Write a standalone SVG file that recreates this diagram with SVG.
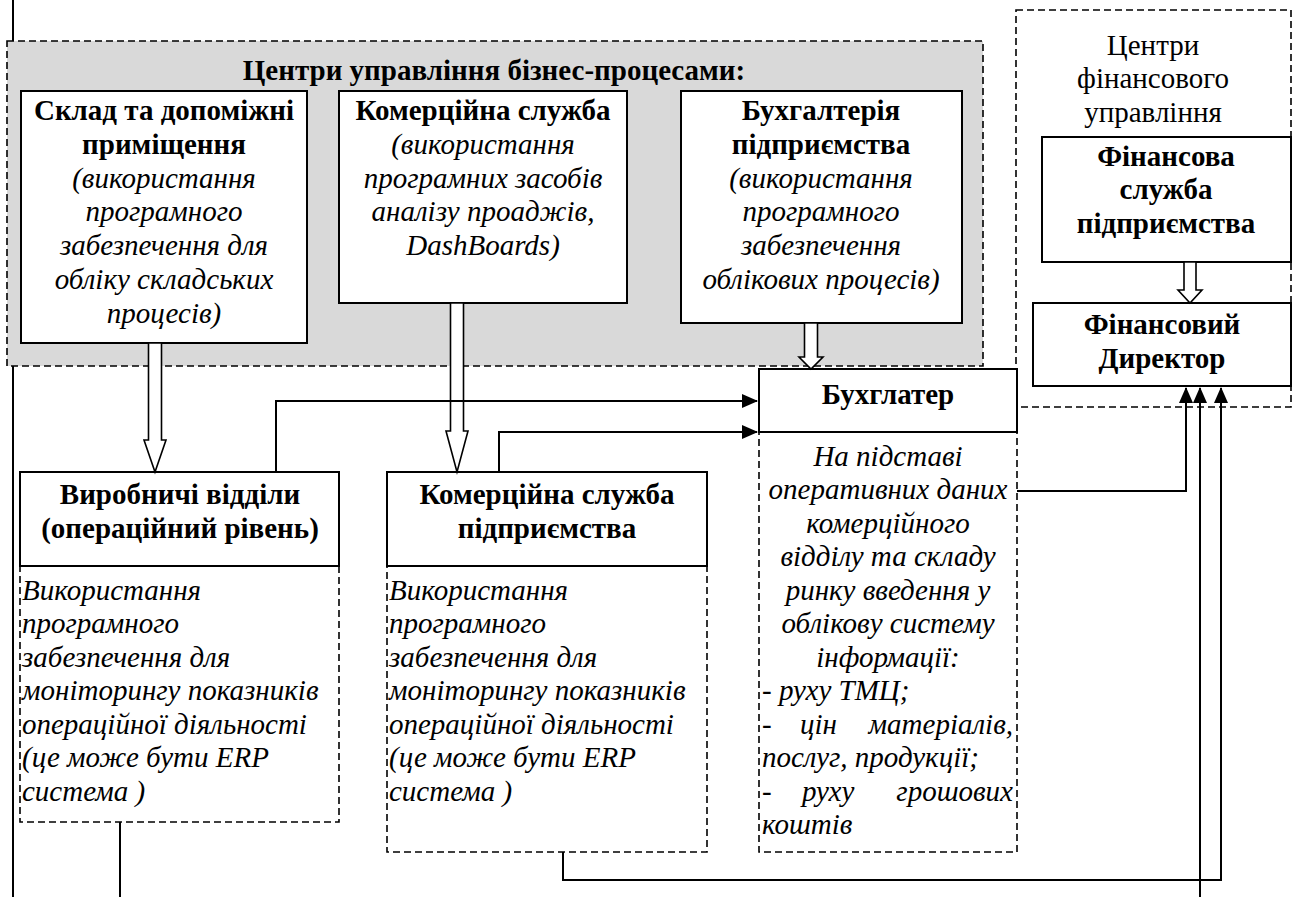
<svg xmlns="http://www.w3.org/2000/svg" width="1293" height="897" viewBox="0 0 1293 897">
<style>
text{font-family:"Liberation Serif",serif;font-size:29px;fill:#000}
.b{font-weight:bold}
.i{font-style:italic}
.c{text-anchor:middle}
.e{text-anchor:end}
.box{fill:#fff;stroke:#000;stroke-width:2}
.dash{fill:none;stroke:#000;stroke-width:1.6;stroke-dasharray:7,4}
.gray{fill:#d9d9d9;stroke:#000;stroke-width:1.6;stroke-dasharray:7,4}
.ln{fill:none;stroke:#000;stroke-width:2}
.blk{fill:#fff;stroke:#000;stroke-width:1.6}
</style>
<defs>
<marker id="ah" markerWidth="16" markerHeight="14" refX="15" refY="7" orient="auto" markerUnits="userSpaceOnUse">
<path d="M0,0 L16,7 L0,14 z" fill="#000"/>
</marker>
</defs>
<rect width="1293" height="897" fill="#fff"/>

<g id="bp-centers">
<rect class="gray" x="7" y="41" width="976" height="325"/>
<text style="font-family:'Liberation Serif',serif" class="b c" x="494" y="80">Центри управління бізнес-процесами:</text>
</g>

<g id="fin-centers">
<rect class="dash" x="1016" y="10" width="275" height="397"/>
<text style="font-family:'Liberation Serif',serif" class="c" x="1153" y="55">Центри</text>
<text style="font-family:'Liberation Serif',serif" class="c" x="1153" y="88">фінансового</text>
<text style="font-family:'Liberation Serif',serif" class="c" x="1153" y="122">управління</text>
</g>

<g id="sklad">
<rect class="box" x="21" y="91" width="286" height="252"/>
<text style="font-family:'Liberation Serif',serif" class="b c" x="164" y="120">Склад та допоміжні</text>
<text style="font-family:'Liberation Serif',serif" class="b c" x="164" y="154">приміщення</text>
<text style="font-family:'Liberation Serif',serif" class="i c" x="164" y="188">(використання</text>
<text style="font-family:'Liberation Serif',serif" class="i c" x="164" y="221">програмного</text>
<text style="font-family:'Liberation Serif',serif" class="i c" x="164" y="255">забезпечення для</text>
<text style="font-family:'Liberation Serif',serif" class="i c" x="164" y="289">обліку складських</text>
<text style="font-family:'Liberation Serif',serif" class="i c" x="164" y="323">процесів)</text>
</g>

<g id="komerc-top">
<rect class="box" x="339" y="91" width="288" height="212"/>
<text style="font-family:'Liberation Serif',serif" class="b c" x="483" y="120">Комерційна служба</text>
<text style="font-family:'Liberation Serif',serif" class="i c" x="483" y="154">(використання</text>
<text style="font-family:'Liberation Serif',serif" class="i c" x="483" y="188">програмних засобів</text>
<text style="font-family:'Liberation Serif',serif" class="i c" x="483" y="221">аналізу проаджів,</text>
<text style="font-family:'Liberation Serif',serif" class="i c" x="483" y="255">DashBoards)</text>
</g>

<g id="buhgalteria">
<rect class="box" x="681" y="91" width="281" height="232"/>
<text style="font-family:'Liberation Serif',serif" class="b c" x="821" y="120">Бухгалтерія</text>
<text style="font-family:'Liberation Serif',serif" class="b c" x="821" y="154">підприємства</text>
<text style="font-family:'Liberation Serif',serif" class="i c" x="821" y="188">(використання</text>
<text style="font-family:'Liberation Serif',serif" class="i c" x="821" y="221">програмного</text>
<text style="font-family:'Liberation Serif',serif" class="i c" x="821" y="255">забезпечення</text>
<text style="font-family:'Liberation Serif',serif" class="i c" x="821" y="289">облікових процесів)</text>
</g>

<g id="fin-sluzhba">
<rect class="box" x="1042" y="137" width="249" height="125"/>
<text style="font-family:'Liberation Serif',serif" class="b c" x="1166" y="166">Фінансова</text>
<text style="font-family:'Liberation Serif',serif" class="b c" x="1166" y="199">служба</text>
<text style="font-family:'Liberation Serif',serif" class="b c" x="1166" y="233">підприємства</text>
</g>

<g id="fin-director">
<rect class="box" x="1033" y="303" width="258" height="83"/>
<text style="font-family:'Liberation Serif',serif" class="b c" x="1162" y="334">Фінансовий</text>
<text style="font-family:'Liberation Serif',serif" class="b c" x="1162" y="368">Директор</text>
</g>

<g id="buhgalter">
<rect class="box" x="759" y="369" width="258" height="63"/>
<text style="font-family:'Liberation Serif',serif" class="b c" x="888" y="404">Бухглатер</text>
<rect class="dash" x="759" y="432" width="258" height="420"/>
<text style="font-family:'Liberation Serif',serif" class="i c" x="888" y="466">На підставі</text>
<text style="font-family:'Liberation Serif',serif" class="i c" x="888" y="499">оперативних даних</text>
<text style="font-family:'Liberation Serif',serif" class="i c" x="888" y="533">комерційного</text>
<text style="font-family:'Liberation Serif',serif" class="i c" x="888" y="566">відділу та складу</text>
<text style="font-family:'Liberation Serif',serif" class="i c" x="888" y="600">ринку введення у</text>
<text style="font-family:'Liberation Serif',serif" class="i c" x="888" y="633">облікову систему</text>
<text style="font-family:'Liberation Serif',serif" class="i c" x="888" y="667">інформації:</text>
<text style="font-family:'Liberation Serif',serif" class="i" x="762" y="700">- руху ТМЦ;</text>
<text style="font-family:'Liberation Serif',serif" class="i" x="762" y="734">-</text>
<text style="font-family:'Liberation Serif',serif" class="i" x="800" y="734">цін</text>
<text style="font-family:'Liberation Serif',serif" class="i e" x="1013" y="734">матеріалів,</text>
<text style="font-family:'Liberation Serif',serif" class="i" x="762" y="767">послуг, продукції;</text>
<text style="font-family:'Liberation Serif',serif" class="i" x="762" y="801">-</text>
<text style="font-family:'Liberation Serif',serif" class="i" x="802" y="801">руху</text>
<text style="font-family:'Liberation Serif',serif" class="i e" x="1013" y="801">грошових</text>
<text style="font-family:'Liberation Serif',serif" class="i" x="762" y="834">коштів</text>
</g>

<g id="vyrobnychi">
<rect class="box" x="20" y="472" width="319" height="94"/>
<text style="font-family:'Liberation Serif',serif" class="b c" x="180" y="504">Виробничі відділи</text>
<text style="font-family:'Liberation Serif',serif" class="b c" x="180" y="538">(операційний рівень)</text>
<rect class="dash" x="20" y="566" width="319" height="256"/>
<text style="font-family:'Liberation Serif',serif" class="i" x="22" y="600">Використання</text>
<text style="font-family:'Liberation Serif',serif" class="i" x="22" y="633">програмного</text>
<text style="font-family:'Liberation Serif',serif" class="i" x="22" y="667">забезпечення для</text>
<text style="font-family:'Liberation Serif',serif" class="i" x="22" y="700">моніторингу показників</text>
<text style="font-family:'Liberation Serif',serif" class="i" x="22" y="734">операційної діяльності</text>
<text style="font-family:'Liberation Serif',serif" class="i" x="22" y="767">(це може бути ERP</text>
<text style="font-family:'Liberation Serif',serif" class="i" x="22" y="801">система )</text>
</g>

<g id="komerc-pidpr">
<rect class="box" x="387" y="472" width="320" height="94"/>
<text style="font-family:'Liberation Serif',serif" class="b c" x="547" y="504">Комерційна служба</text>
<text style="font-family:'Liberation Serif',serif" class="b c" x="547" y="538">підприємства</text>
<rect class="dash" x="387" y="566" width="320" height="286"/>
<text style="font-family:'Liberation Serif',serif" class="i" x="389" y="600">Використання</text>
<text style="font-family:'Liberation Serif',serif" class="i" x="389" y="633">програмного</text>
<text style="font-family:'Liberation Serif',serif" class="i" x="389" y="667">забезпечення для</text>
<text style="font-family:'Liberation Serif',serif" class="i" x="389" y="700">моніторингу показників</text>
<text style="font-family:'Liberation Serif',serif" class="i" x="389" y="734">операційної діяльності</text>
<text style="font-family:'Liberation Serif',serif" class="i" x="389" y="767">(це може бути ERP</text>
<text style="font-family:'Liberation Serif',serif" class="i" x="389" y="801">система )</text>
</g>

<g id="connectors">
<path class="ln" d="M13,0 V41 M13,366 V897"/>
<polygon class="blk" points="148.5,343 161.5,343 161.5,440 166,440 155,472 144,440 148.5,440"/>
<polygon class="blk" points="450.5,303 463.5,303 463.5,431 468,431 457,472 446,431 450.5,431"/>
<polygon class="blk" points="804.5,323 817.5,323 817.5,357 823,357 811,369 799,357 804.5,357"/>
<polygon class="blk" points="1184,262 1196,262 1196,290 1202,290 1190,303 1178,290 1184,290"/>
<path class="ln" d="M276,472 V401 H757" marker-end="url(#ah)"/>
<path class="ln" d="M499,472 V432 H757" marker-end="url(#ah)"/>
<path class="ln" d="M1017,491 H1186 V388" marker-end="url(#ah)"/>
<path class="ln" d="M1200,897 V388" marker-end="url(#ah)"/>
<path class="ln" d="M563,852 V880 H1221 V388" marker-end="url(#ah)"/>
<path class="ln" d="M120,822 V897"/>
</g>
</svg>
